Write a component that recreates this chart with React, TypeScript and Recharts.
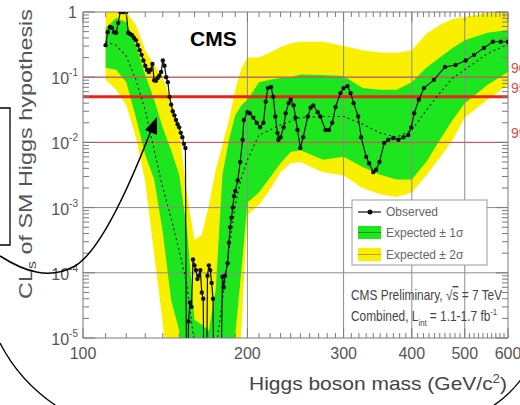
import { ComposedChart, Area, Line, XAxis, YAxis, ReferenceLine } from 'recharts';

// Higgs mass grid used for the expected bands (GeV)
const bandMass = [110, 115, 120, 125, 130, 135, 140, 145, 150, 155, 160, 165, 170, 175, 180, 185, 190, 195, 200, 210, 220, 230, 240, 250, 275, 300, 325, 350, 375, 400, 425, 450, 475, 500, 550, 600];
const yellowHigh = [1, 1, 1, 0.63, 0.26, 0.154, 0.097, 0.045, 0.0155, 0.0016, 0.00032, 0.00038, 0.0011, 0.0038, 0.0091, 0.022, 0.064, 0.138, 0.2, 0.2, 0.24, 0.29, 0.33, 0.35, 0.35, 0.3, 0.26, 0.24, 0.235, 0.26, 0.46, 0.63, 0.78, 0.84, 0.97, 1];
const greenHigh = [0.57, 0.81, 0.7, 0.31, 0.108, 0.045, 0.0166, 0.0076, 0.0032, 0.00046, 0.000019, 0.000016, 0.000013, 0.000055, 0.0032, 0.0109, 0.026, 0.037, 0.045, 0.084, 0.091, 0.097, 0.1, 0.11, 0.108, 0.104, 0.068, 0.064, 0.064, 0.084, 0.14, 0.2, 0.28, 0.37, 0.48, 0.53];
const expectedMedian = [0.35, 0.31, 0.21, 0.091, 0.031, 0.0076, 0.002, 0.00069, 0.00022, 0.000065, 0.0000078, 0.0000032, 0.0000023, 0.0000065, 0.000038, 0.00022, 0.0011, 0.0029, 0.0054, 0.013, 0.0155, 0.0185, 0.021, 0.024, 0.025, 0.025, 0.019, 0.014, 0.012, 0.0155, 0.031, 0.057, 0.097, 0.13, 0.23, 0.32];
const greenLow = [0.14, 0.13, 0.084, 0.024, 0.0064, 0.0027, 0.00041, 0.000038, 0.000013, 0.000001, 0.0000005, 0.0000003, 0.0000003, 0.0000003, 0.000001, 0.0000023, 0.000011, 0.00011, 0.0012, 0.0017, 0.0029, 0.0048, 0.0071, 0.0076, 0.0054, 0.006, 0.0042, 0.0032, 0.0027, 0.0027, 0.005, 0.0109, 0.022, 0.04, 0.076, 0.12];
const yellowLow = [0.091, 0.064, 0.0375, 0.012, 0.0025, 0.00019, 0.000017, 0.000001, 0.0000005, 0.0000003, 0.0000002, 0.0000001, 0.0000001, 0.0000001, 0.0000001, 0.0000005, 0.000001, 0.000013, 0.00077, 0.0011, 0.0019, 0.0035, 0.0048, 0.005, 0.0035, 0.0031, 0.002, 0.0016, 0.00145, 0.0017, 0.0031, 0.0058, 0.0109, 0.024, 0.045, 0.076];

// observed CLs
const obsMass = [110, 111, 112, 113, 114, 115, 116, 117, 118, 119, 120, 121, 122, 123, 124, 125, 126, 127, 128, 129, 130, 131, 132, 133, 134, 135, 136, 137, 138, 139, 140, 141, 142, 143, 144, 145, 146, 147, 148, 149, 150, 151, 152, 153, 154, 155, 156, 157, 158, 159, 160, 161, 162, 163, 164, 165, 166, 167, 168, 169, 170, 171, 172, 173, 174, 178, 180, 181, 182, 184, 185, 186, 187, 188, 189, 190, 192, 194, 196, 197, 200, 202, 205, 208, 211, 214, 216, 218, 221, 223, 225, 227, 228, 230, 233, 235, 238, 240, 243, 245, 247, 250, 253, 258, 261, 264, 269, 272, 278, 282, 286, 290, 296, 300, 305, 309, 313, 319, 323, 330, 334, 340, 344, 349, 356, 362, 370, 378, 386, 394, 399, 404, 412, 421, 439, 460, 481, 502, 520, 542, 563, 582, 600];
const obsValue = [0.31, 0.49, 0.59, 0.57, 0.49, 0.48, 0.68, 1, 1, 1, 1, 0.48, 0.46, 0.44, 0.4, 0.37, 0.31, 0.26, 0.22, 0.18, 0.15, 0.13, 0.12, 0.13, 0.16, 0.09, 0.088, 0.097, 0.105, 0.12, 0.18, 0.15, 0.1, 0.084, 0.05, 0.038, 0.03, 0.026, 0.022, 0.019, 0.017, 0.014, 0.012, 0.0095, 0.0082, 0.0000001, 0.000018, 0.000035, 0.00003, 0.00016, 0.00013, 0.00011, 0.00008, 0.00009, 0.00011, 0.00005, 0.00004, 0.0000001, 0.0000001, 0.00009, 0.00013, 0.00011, 0.00007, 0.00004, 0.0000001, 0.0000001, 0.000087, 0.00006, 0.00009, 0.00014, 0.00029, 0.0005, 0.0007, 0.001, 0.0015, 0.0018, 0.0026, 0.005, 0.011, 0.022, 0.029, 0.028, 0.024, 0.02, 0.017, 0.02, 0.042, 0.068, 0.071, 0.05, 0.025, 0.014, 0.011, 0.012, 0.017, 0.028, 0.04, 0.045, 0.037, 0.024, 0.0155, 0.0082, 0.012, 0.025, 0.034, 0.037, 0.029, 0.025, 0.0155, 0.0155, 0.02, 0.035, 0.057, 0.068, 0.073, 0.057, 0.04, 0.025, 0.012, 0.006, 0.0048, 0.0035, 0.0038, 0.005, 0.0098, 0.011, 0.0117, 0.011, 0.012, 0.013, 0.017, 0.028, 0.045, 0.068, 0.091, 0.143, 0.154, 0.18, 0.22, 0.28, 0.35, 0.35, 0.35];

const xMajor = [100, 200, 300, 400, 500, 600];
const xTicks = Array.from({ length: 51 }, (_, i) => 100 + i * 10);
const yDecades = [1e-5, 1e-4, 1e-3, 1e-2, 1e-1, 1];
const yTicks = yDecades.flatMap((d) => (d === 1 ? [1] : [1, 2, 3, 4, 5, 6, 7, 8, 9].map((k) => k * d)));
const gridX = [200, 300, 400, 500];
const gridY = [1e-4, 1e-3, 1e-2, 1e-1];
const clLines = [
  { v: 0.1, label: '90%', width: 1 },
  { v: 0.05, label: '95%', width: 3 },
  { v: 0.01, label: '99%', width: 1 },
];

const W = 520;
const H = 405;
const LEFT = 83;
const RIGHT = 508;
const TOP = 12;
const BOTTOM = 338;

const GREEN = '#1ee61e';
const YELLOW = '#f8f000';
const AXIS = '#7a7a7a';
const TXT = '#555';

const yellowData = bandMass.map((m, i) => ({ m, band: [yellowLow[i], yellowHigh[i]] }));
const greenData = bandMass.map((m, i) => ({ m, band: [greenLow[i], greenHigh[i]] }));
const medianData = bandMass.map((m, i) => ({ m, v: expectedMedian[i] }));
const obsData = obsMass.map((m, i) => ({ m, v: obsValue[i] }));

const isDecade = (v: number) => Math.abs(Math.log10(v) - Math.round(Math.log10(v))) < 1e-6;

const BottomTick = ({ x, payload }: any) => {
  const major = xMajor.includes(payload.value);
  return (
    <g>
      <line x1={x} x2={x} y1={BOTTOM} y2={BOTTOM - (major ? 10 : 5)} stroke={AXIS} />
      {major && (
        <text x={x} y={BOTTOM + 21} textAnchor="middle" fontSize={16} fill={TXT}>
          {payload.value}
        </text>
      )}
    </g>
  );
};

const TopTick = ({ x, payload }: any) => {
  const major = xMajor.includes(payload.value);
  return <line x1={x} x2={x} y1={TOP} y2={TOP + (major ? 10 : 5)} stroke={AXIS} />;
};

const LeftTick = ({ y, payload }: any) => {
  const v = payload.value;
  const major = isDecade(v);
  const exp = Math.round(Math.log10(v));
  return (
    <g>
      <line x1={LEFT} x2={LEFT + (major ? 12 : 6)} y1={y} y2={y} stroke={AXIS} />
      {major &&
        (exp === 0 ? (
          <text x={77} y={y + 6} textAnchor="end" fontSize={16} fill={TXT}>1</text>
        ) : (
          <text x={78} y={y + 7} textAnchor="end" fontSize={16} fill={TXT}>
            10<tspan fontSize={10} dy={-8}>{exp}</tspan>
          </text>
        ))}
    </g>
  );
};

const RightTick = ({ y, payload }: any) => {
  const major = isDecade(payload.value);
  return <line x1={RIGHT} x2={RIGHT - (major ? 12 : 6)} y1={y} y2={y} stroke={AXIS} />;
};

const ClLabel = (text: string) => (props: any) => {
  const vb = props.viewBox || {};
  return (
    <text x={(vb.x || 0) + (vb.width || 0) + 3} y={(vb.y || 0) - 4} fontSize={14} fill="#e04848">
      {text}
    </text>
  );
};

function Overlay() {
  return (
    <svg width={W} height={H} style={{ position: 'absolute', left: 0, top: 0, pointerEvents: 'none' }}>
      <text x={190} y={46} fontSize={21} fontWeight="bold" fill="#000">CMS</text>

      {/* legend */}
      <rect x={352} y={200} width={135} height={65} fill="#fff" stroke="#999" />
      <line x1={358} x2={381} y1={212} y2={212} stroke="#111" strokeWidth={1.2} />
      <circle cx={370} cy={212} r={2.5} fill="#111" />
      <text x={386} y={216} fontSize={12} fill="#666">Observed</text>
      <rect x={358} y={226} width={23} height={13} fill={GREEN} />
      <line x1={358} x2={381} y1={232.5} y2={232.5} stroke="#0a9a0a" />
      <text x={386} y={237} fontSize={12} fill="#666">Expected ± 1σ</text>
      <rect x={358} y={248} width={23} height={13} fill={YELLOW} />
      <line x1={358} x2={381} y1={254.5} y2={254.5} stroke="#c89a00" />
      <text x={386} y={259} fontSize={12} fill="#666">Expected ± 2σ</text>

      <g transform="translate(351,300) scale(0.85,1)">
        <text x={0} y={0} fontSize={14} fill="#444">
          CMS Preliminary, √<tspan textDecoration="overline">s</tspan> = 7 TeV
        </text>
      </g>
      <g transform="translate(351,321) scale(0.85,1)">
        <text x={0} y={0} fontSize={14} fill="#444">
          Combined, L<tspan fontSize={9} dy={5}>int</tspan>
          <tspan dy={-5}> = 1.1-1.7 fb</tspan>
          <tspan fontSize={9} dy={-6}>-1</tspan>
        </text>
      </g>

      {/* axis titles */}
      <text x={378} y={390} textAnchor="middle" fontSize={19} fill="#444" textLength={258} lengthAdjust="spacingAndGlyphs">
        Higgs boson mass (GeV/c<tspan fontSize={12} dy={-7}>2</tspan>
        <tspan dy={7}>)</tspan>
      </text>
      <text
        transform="translate(32,154) rotate(-90)"
        textAnchor="middle"
        fontSize={19}
        fill="#555"
        textLength={290}
        lengthAdjust="spacingAndGlyphs"
      >
        CL<tspan fontSize={13} dy={4}>s</tspan>
        <tspan dy={-4}> of SM Higgs hypothesis</tspan>
      </text>

      {/* hand-drawn annotations */}
      <path d="M -2 108 L 10 108 L 10 245 L -2 245" fill="none" stroke="#000" strokeWidth={1.3} />
      <path d="M 0 256 C 25 272, 50 280, 75 266 C 100 251, 130 185, 152 128" fill="none" stroke="#000" strokeWidth={1.5} />
      <polygon points="157,117 145,130 157,135" fill="#000" />
      <path d="M 0 343 Q 20 382 58 407" fill="none" stroke="#000" strokeWidth={1.3} />
      <path d="M 522 378 Q 510 395 490 408" fill="none" stroke="#000" strokeWidth={1.3} />
    </svg>
  );
}

export default function App() {
  return (
    <div
      style={{
        position: 'absolute',
        left: 0,
        top: 0,
        width: W,
        height: H,
        overflow: 'hidden',
        background: '#fff',
        fontFamily: '"Liberation Sans", Arial, sans-serif',
      }}
    >
      <ComposedChart width={W} height={H} margin={{ top: 0, right: 0, bottom: 0, left: 0 }}>
        <XAxis
          dataKey="m"
          type="number"
          scale="log"
          domain={[100, 600]}
          allowDataOverflow
          ticks={xTicks}
          interval={0}
          height={H - BOTTOM}
          tickLine={false}
          tick={<BottomTick />}
          axisLine={{ stroke: AXIS }}
        />
        <XAxis
          xAxisId="top"
          orientation="top"
          dataKey="m"
          type="number"
          scale="log"
          domain={[100, 600]}
          allowDataOverflow
          ticks={xTicks}
          interval={0}
          height={TOP}
          tickLine={false}
          tick={<TopTick />}
          axisLine={{ stroke: AXIS }}
        />
        <YAxis
          type="number"
          scale="log"
          domain={[1e-5, 1]}
          allowDataOverflow
          ticks={yTicks}
          interval={0}
          width={LEFT}
          tickLine={false}
          tick={<LeftTick />}
          axisLine={{ stroke: AXIS }}
        />
        <YAxis
          yAxisId="right"
          orientation="right"
          type="number"
          scale="log"
          domain={[1e-5, 1]}
          allowDataOverflow
          ticks={yTicks}
          interval={0}
          width={W - RIGHT}
          tickLine={false}
          tick={<RightTick />}
          axisLine={{ stroke: AXIS }}
        />

        <Area
          data={yellowData}
          dataKey="band"
          type="linear"
          stroke="none"
          fill={YELLOW}
          fillOpacity={1}
          dot={false}
          activeDot={false}
          isAnimationActive={false}
        />
        <Area
          data={greenData}
          dataKey="band"
          type="linear"
          stroke="none"
          fill={GREEN}
          fillOpacity={1}
          dot={false}
          activeDot={false}
          isAnimationActive={false}
        />

        {gridX.map((x) => (
          <ReferenceLine key={`gx${x}`} x={x} stroke="#8c8c8c" strokeWidth={1} />
        ))}
        {gridY.map((y) => (
          <ReferenceLine key={`gy${y}`} y={y} stroke="#8c8c8c" strokeWidth={1} />
        ))}
        {clLines.map((c) => (
          <ReferenceLine
            key={c.label}
            y={c.v}
            stroke={c.width > 1 ? '#e8241c' : '#d65050'}
            strokeWidth={c.width}
            label={ClLabel(c.label)}
          />
        ))}

        <Line
          data={medianData}
          dataKey="v"
          type="linear"
          stroke="#111"
          strokeWidth={1.1}
          strokeDasharray="2 3"
          dot={false}
          activeDot={false}
          isAnimationActive={false}
        />
        <Line
          data={obsData}
          dataKey="v"
          type="linear"
          stroke="#111"
          strokeWidth={1.2}
          dot={{ r: 2.2, fill: '#111', stroke: 'none' }}
          activeDot={false}
          isAnimationActive={false}
        />
      </ComposedChart>
      <Overlay />
    </div>
  );
}
